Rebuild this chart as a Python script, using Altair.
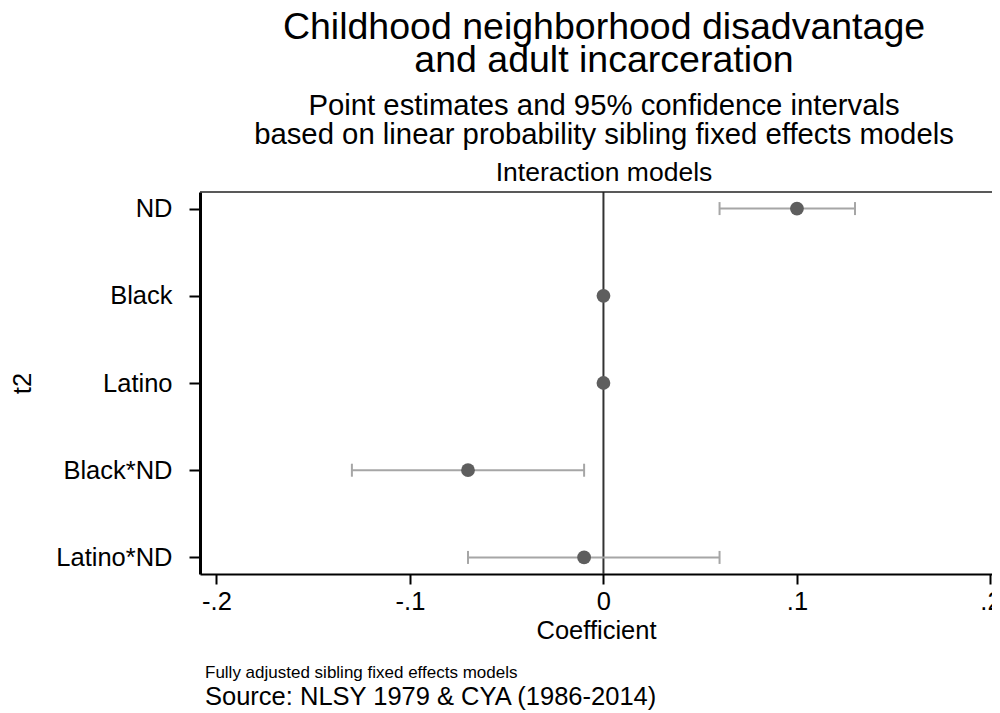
import altair as alt
import pandas as pd

# ---- data ----
terms = ["ND", "Black", "Latino", "Black*ND", "Latino*ND"]
estimates = [0.10, 0.0, 0.0, -0.07, -0.01]
ci_low = [0.06, None, None, -0.13, -0.07]
ci_high = [0.13, None, None, -0.01, 0.06]
x_ticks = [-0.2, -0.1, 0.0, 0.1, 0.2]

title_lines = ["Childhood neighborhood disadvantage", "and adult incarceration"]
subtitle_lines = ["Point estimates and 95% confidence intervals",
                  "based on linear probability sibling fixed effects models"]
panel_label = "Interaction models"
note_line = "Fully adjusted sibling fixed effects models"
source_line = "Source: NLSY 1979 & CYA (1986-2014)"

df = pd.DataFrame({"term": terms, "est": estimates, "lo": ci_low, "hi": ci_high})
ci_df = df.dropna()

W, H = 792, 382
FONT = "Liberation Sans"
CX = 404  # horizontal centre of the titles, relative to the plot's left edge

xscale = alt.Scale(domain=[-0.2085, 0.2008], nice=False, zero=False)
xaxis = alt.Axis(
    values=x_ticks, grid=False, title="Coefficient",
    labelExpr="datum.value == 0 ? '0' : (datum.value < 0 ? '-' : '') + '.' + round(abs(datum.value) * 10)",
    tickSize=10, tickWidth=2, tickColor="black", domainColor="black", domainWidth=2,
    labelFontSize=25.5, labelColor="black", labelPadding=5, labelFont=FONT,
    titleFontSize=25.5, titleFontWeight="normal", titleColor="black", titlePadding=4, titleFont=FONT,
)
yscale = alt.Scale(type="point", padding=0.19)
yaxis = alt.Axis(
    grid=False, title="t2",
    tickSize=11, tickWidth=2, tickColor="black", domainColor="black", domainWidth=3,
    labelFontSize=25.5, labelColor="black", labelPadding=17, labelFont=FONT,
    titleFontSize=25.5, titleFontWeight="normal", titleColor="black", titlePadding=20, titleFont=FONT,
)

def X(field):
    return alt.X(field, type="quantitative", scale=xscale, axis=xaxis)

def Y():
    return alt.Y("term:N", sort=terms, scale=yscale, axis=yaxis)

def text_layer(txt, x, y, size, align="center"):
    return alt.Chart(pd.DataFrame({"t": [txt]})).mark_text(
        fontSize=size, font=FONT, color="black", align=align, baseline="alphabetic"
    ).encode(text="t:N", x=alt.value(x), y=alt.value(y))

zero = alt.Chart(pd.DataFrame({"z": [0.0]})).mark_rule(color="#333333", strokeWidth=2).encode(x=X("z"))

err = alt.Chart(ci_df).mark_rule(color="#a6a6a6", strokeWidth=2).encode(
    x=X("lo"), x2="hi:Q", y=Y())
cap_lo = alt.Chart(ci_df).mark_tick(color="#a6a6a6", thickness=2, size=13, opacity=1).encode(
    x=X("lo"), y=Y())
cap_hi = alt.Chart(ci_df).mark_tick(color="#a6a6a6", thickness=2, size=13, opacity=1).encode(
    x=X("hi"), y=Y())
pts = alt.Chart(df).mark_circle(size=190, color="#5e5e5e", opacity=1).encode(
    x=X("est"), y=Y())

top_line = alt.Chart(pd.DataFrame({"a": [0]})).mark_rule(color="#222222", strokeWidth=1.5).encode(
    x=alt.value(0), x2=alt.value(W), y=alt.value(0))

texts = [
    text_layer(title_lines[0], CX, -153, 37.5),
    text_layer(title_lines[1], CX, -120, 37.5),
    text_layer(subtitle_lines[0], CX, -77, 29.3),
    text_layer(subtitle_lines[1], CX, -48, 29.3),
    text_layer(panel_label, CX, -11, 26.5),
    text_layer(note_line, 5, 486, 17, align="left"),
    text_layer(source_line, 5, 513, 25.5, align="left"),
]

chart = alt.layer(zero, err, cap_lo, cap_hi, pts, top_line, *texts).properties(
    width=W, height=H,
    autosize=alt.AutoSizeParams(type="none"),
    padding={"left": 192, "top": 184, "right": 0, "bottom": 140},
).configure(font=FONT, background="white").configure_view(stroke=None)

chart.save("out.html", embed_options={"renderer": "svg", "actions": False})
